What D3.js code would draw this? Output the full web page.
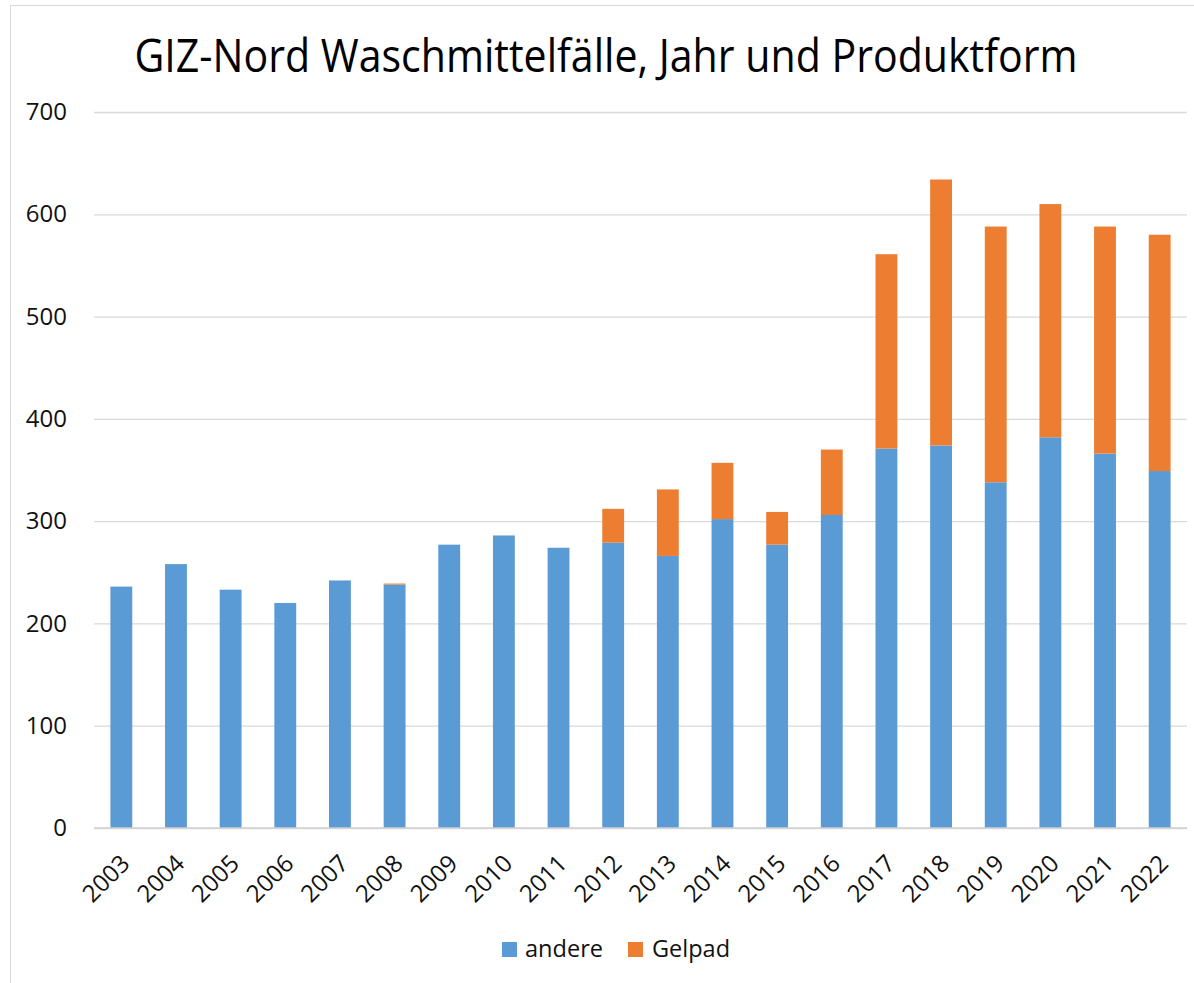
<!DOCTYPE html>
<html>
<head>
<meta charset="utf-8">
<script src="https://cdn.jsdelivr.net/npm/d3@7"></script>
<style>
  html, body { margin: 0; padding: 0; background: #fff; }
  svg { display: block; }
  text { font-family: "Open Sans", "Noto Sans", sans-serif; }
</style>
</head>
<body>
<svg id="chart" width="1194" height="983"></svg>
<script>
const years = ["2003","2004","2005","2006","2007","2008","2009","2010","2011","2012",
               "2013","2014","2015","2016","2017","2018","2019","2020","2021","2022"];
const andere = [236, 258, 233, 220, 242, 238, 277, 286, 274, 279,
                266, 302, 277, 306, 371, 374, 338, 382, 366, 349];
const gelpad = [0, 0, 0, 0, 0, 1, 0, 0, 0, 33,
                65, 55, 32, 64, 190, 260, 250, 228, 222, 231];
const seriesNames = ["andere", "Gelpad"];
const seriesColors = ["#5B9BD5", "#ED7D31"];
const yTicks = [0, 100, 200, 300, 400, 500, 600, 700];
const titleText = "GIZ-Nord Waschmittelfälle, Jahr und Produktform";

const svg = d3.select("#chart");

// outer frame
svg.append("rect")
  .attr("x", 10.5).attr("y", 5.5)
  .attr("width", 1300).attr("height", 1100)
  .attr("fill", "none").attr("stroke", "#d9d9d9").attr("stroke-width", 1);

const x = d3.scaleBand().domain(years).range([94, 1187]).paddingInner(0.6).paddingOuter(0.3);
const y = d3.scaleLinear().domain([0, 700]).range([828, 112]);

// gridlines
svg.append("g")
  .attr("transform", "translate(94,0)")
  .call(d3.axisLeft(y).tickValues(yTicks).tickSize(-(1187 - 94)).tickFormat(""))
  .call(g => g.select(".domain").remove())
  .call(g => g.selectAll("line").attr("stroke", "#d9d9d9").attr("stroke-width", 1.3));

// y labels
svg.append("g")
  .attr("transform", "translate(94,0)")
  .call(d3.axisLeft(y).tickValues(yTicks).tickSize(0).tickPadding(27))
  .call(g => g.select(".domain").remove())
  .call(g => g.selectAll("text")
    .attr("font-size", 24).attr("fill", "#111")
    .style("font-family", "'Open Sans', sans-serif"));

// stacked data
const rows = years.map((yr, i) => ({ year: yr, andere: andere[i], Gelpad: gelpad[i] }));
const stacked = d3.stack().keys(seriesNames)(rows);

svg.append("g").selectAll("g")
  .data(stacked)
  .join("g")
  .attr("fill", (d, i) => seriesColors[i])
  .selectAll("rect")
  .data(d => d)
  .join("rect")
  .attr("x", d => x(d.data.year))
  .attr("width", x.bandwidth())
  .attr("y", d => y(d[1]))
  .attr("height", d => Math.max(0, y(d[0]) - y(d[1])));

// baseline
svg.append("line")
  .attr("x1", 94).attr("x2", 1187)
  .attr("y1", y(0)).attr("y2", y(0))
  .attr("stroke", "#d0d0d0").attr("stroke-width", 1.3);

// x labels
const xAxis = svg.append("g")
  .attr("transform", `translate(0,${y(0)})`)
  .call(d3.axisBottom(x).tickSize(0).tickFormat(d => d))
  .call(g => g.select(".domain").remove());
xAxis.selectAll("text")
  .attr("font-size", 24).attr("fill", "#111")
  .style("font-family", "'Open Sans', sans-serif")
  .attr("text-anchor", "end")
  .attr("dy", "0")
  .attr("y", 0)
  .attr("transform", "translate(10,37) rotate(-45)");

// title
svg.append("text")
  .attr("x", 606).attr("y", 72)
  .attr("text-anchor", "middle")
  .attr("font-size", 46)
  .attr("fill", "#000")
  .attr("textLength", 943)
  .attr("lengthAdjust", "spacingAndGlyphs")
  .text(titleText);

// legend
const legendPos = [{ sx: 502, tx: 525, tw: 78 }, { sx: 628, tx: 652, tw: 78 }];
const legend = svg.append("g");
seriesNames.forEach((name, i) => {
  legend.append("rect")
    .attr("x", legendPos[i].sx).attr("y", 942)
    .attr("width", 15).attr("height", 15)
    .attr("fill", seriesColors[i]);
  legend.append("text")
    .attr("x", legendPos[i].tx).attr("y", 957)
    .attr("font-size", 24).attr("fill", "#111")
    .attr("textLength", legendPos[i].tw)
    .attr("lengthAdjust", "spacingAndGlyphs")
    .text(name);
});
</script>
</body>
</html>
